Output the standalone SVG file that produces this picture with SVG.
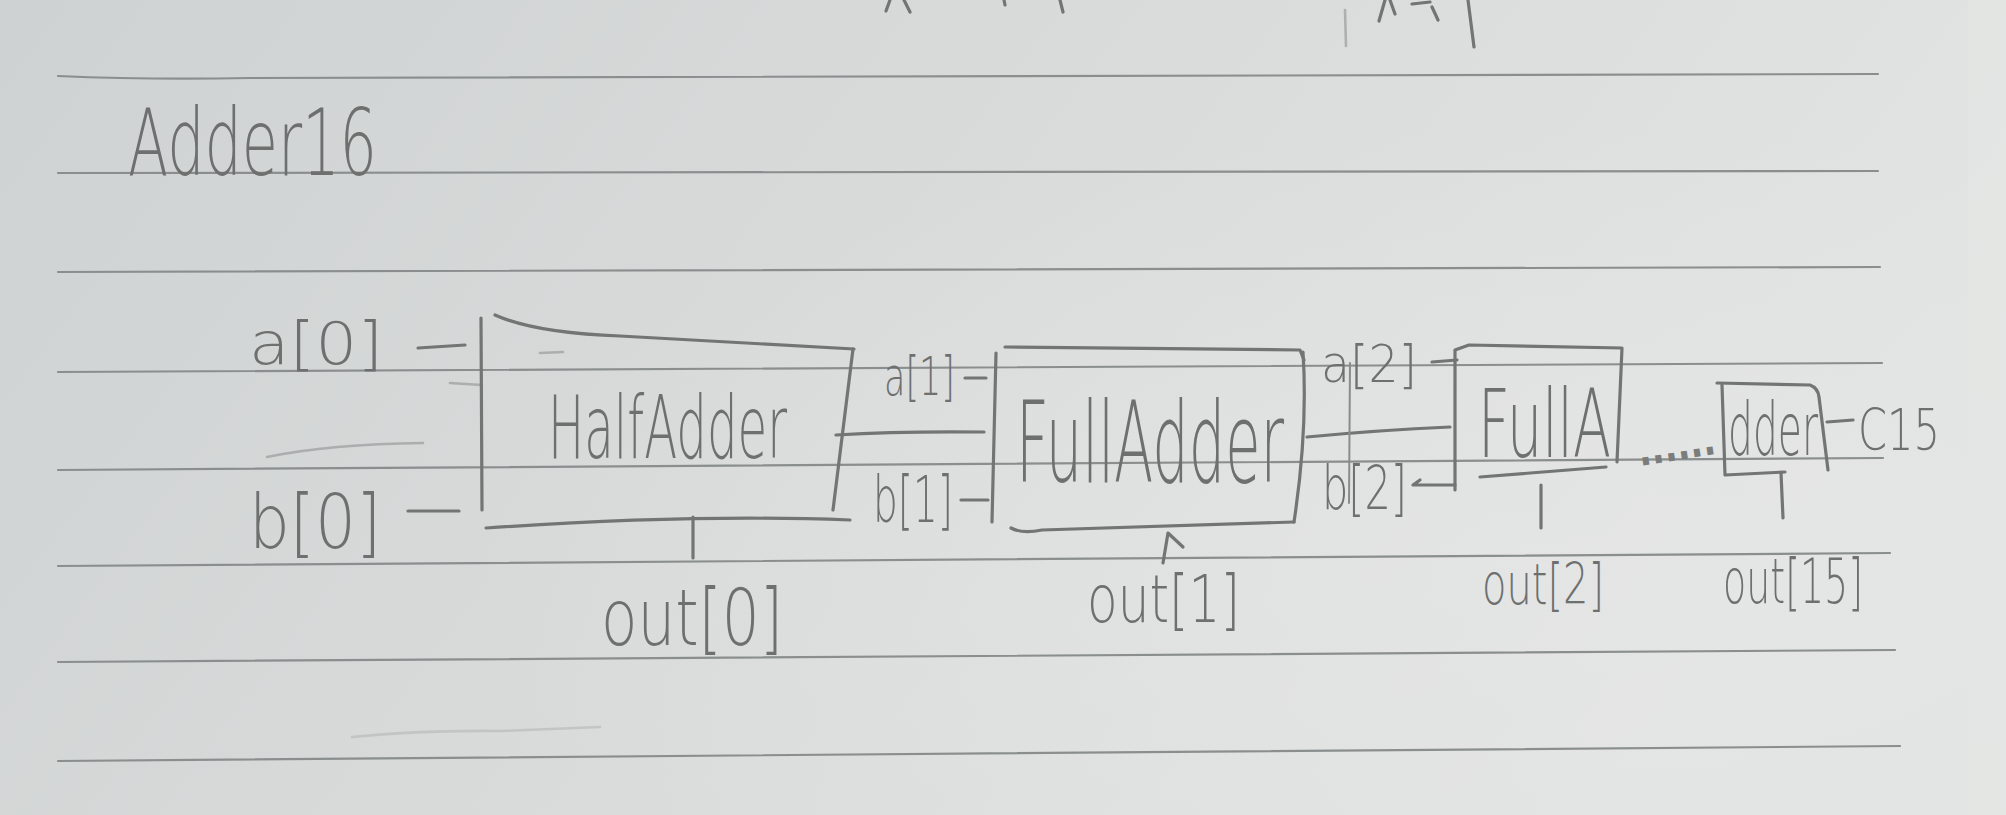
<svg xmlns="http://www.w3.org/2000/svg" width="2006" height="815" viewBox="0 0 2006 815">
<defs>
<linearGradient id="paper" x1="0" y1="0" x2="1" y2="0.3">
<stop offset="0" stop-color="#ced2d2"/>
<stop offset="0.45" stop-color="#d7dad9"/>
<stop offset="1" stop-color="#e2e4e3"/>
</linearGradient>
<radialGradient id="glow" cx="0.78" cy="0.7" r="0.55">
<stop offset="0" stop-color="#e6e7e6" stop-opacity="0.6"/>
<stop offset="1" stop-color="#e6e7e6" stop-opacity="0"/>
</radialGradient>
<style>
.rule{stroke:#8a8e8e;stroke-width:2.2;fill:none;stroke-linecap:round}
.pen{stroke:#727574;stroke-width:3.2;fill:none;stroke-linecap:round;stroke-linejoin:round}
.thin{stroke:#8a8c8b;stroke-width:2;fill:none;stroke-linecap:round}
.faint{stroke:#9a9d9c;stroke-width:2.6;fill:none;stroke-linecap:round;opacity:0.7}
.hw{font-family:"DejaVu Sans","Liberation Sans",sans-serif;font-weight:200;fill:#6d706f}
.dots{font-family:"DejaVu Sans","Liberation Sans",sans-serif;font-weight:700;fill:#7a7d7c}
</style>
</defs>
<rect x="0" y="0" width="2006" height="815" fill="url(#paper)"/>
<rect x="0" y="0" width="2006" height="815" fill="url(#glow)"/>
<rect x="1968" y="0" width="38" height="815" fill="#e6e7e6" opacity="0.5"/>

<g id="ruled-lines">
<path class="rule" d="M58,76 Q150,80 250,78 L1878,74"/>
<path class="rule" d="M58,173 L1878,171"/>
<path class="rule" d="M58,272 L1880,267"/>
<path class="rule" d="M58,372 L1882,363"/>
<path class="rule" d="M58,470 L1883,458"/>
<path class="rule" d="M58,566 L1890,553"/>
<path class="rule" d="M58,662 L1895,650"/>
<path class="rule" d="M58,761 L1900,746"/>
</g>

<g id="top-marks">
<path class="pen" d="M886,11 L890,0 M904,0 L910,12 M1004,0 L1005,5 M1060,0 L1063,12 M1379,21 L1385,0 M1390,0 L1395,14 M1412,4 L1430,2 M1432,7 L1438,20 M1468,0 L1474,47"/>
<path class="faint" d="M1345,10 L1346,46"/>
</g>

<g id="title">
<text class="hw" transform="translate(128,175) scale(1,1.56)" x="0" y="0" font-size="59" textLength="249" lengthAdjust="spacingAndGlyphs">Adder16</text>
</g>

<g id="stray-marks">
<path class="faint" d="M267,457 Q330,444 423,443"/>
<path class="faint" d="M450,383 L482,385"/>
<path class="faint" d="M540,353 L563,352"/>
<path class="faint" style="opacity:0.35" d="M352,737 Q420,730 500,731 L600,727"/>
</g>

<g id="input-a0">
<text class="hw" x="249" y="364" font-size="58" textLength="134" lengthAdjust="spacingAndGlyphs">a[0]</text>
</g>
<g id="input-b0">
<text class="hw" transform="translate(249,548) scale(1,1.16)" x="0" y="0" font-size="64" textLength="132" lengthAdjust="spacingAndGlyphs">b[0]</text>
</g>

<g id="halfadder">
<path class="pen" d="M481,318 L482,510"/>
<path class="pen" d="M495,315 Q535,333 620,336 L854,349"/>
<path class="pen" d="M853,349 L833,510"/>
<path class="pen" d="M486,528 Q690,514 850,520"/>
<text class="hw" transform="translate(548,458) scale(1,1.83)" x="0" y="0" font-size="48" textLength="239" lengthAdjust="spacingAndGlyphs">HalfAdder</text>
</g>

<g id="fulladder-1">
<path class="pen" d="M996,353 L992,522"/>
<path class="pen" d="M1005,347 L1300,350 L1304,360"/>
<path class="pen" d="M1303,352 Q1308,430 1294,522"/>
<path class="pen" d="M1011,528 Q1022,534 1042,530 L1294,522"/>
<text class="hw" transform="translate(1016,482) scale(1,1.98)" x="0" y="0" font-size="56.5" textLength="268" lengthAdjust="spacingAndGlyphs">FullAdder</text>
</g>

<g id="fulladder-2">
<path class="pen" d="M1455,490 L1455,350 L1469,345 L1622,348 L1617,462"/>
<path class="pen" d="M1480,477 Q1540,472 1606,467"/>
<text class="hw" transform="translate(1478,457) scale(1,1.76)" x="0" y="0" font-size="54" textLength="133" lengthAdjust="spacingAndGlyphs">FullA</text>
</g>

<g id="adder-15">
<path class="pen" d="M1717,383 L1810,385 Q1818,388 1819,397 L1828,470"/>
<path class="pen" d="M1722,385 L1725,475 L1785,472"/>
<text class="hw" transform="translate(1728,455) scale(1,1.85)" x="0" y="0" font-size="39" textLength="90" lengthAdjust="spacingAndGlyphs">dder</text>
</g>

<g id="labels">
<text class="hw" transform="translate(884,395) scale(1,1.51)" x="0" y="0" font-size="35" textLength="71" lengthAdjust="spacingAndGlyphs">a[1]</text>
<text class="hw" transform="translate(873,522) scale(1,1.64)" x="0" y="0" font-size="39" textLength="80" lengthAdjust="spacingAndGlyphs">b[1]</text>
<text class="hw" transform="translate(1321,382) scale(1,1.08)" x="0" y="0" font-size="47" textLength="96" lengthAdjust="spacingAndGlyphs">a[2]</text>
<text class="hw" transform="translate(1322,509) scale(1,1.47)" x="0" y="0" font-size="41.5" textLength="85" lengthAdjust="spacingAndGlyphs">b[2]</text>
<text class="hw" transform="translate(601,645) scale(1,1.3)" x="0" y="0" font-size="60" textLength="182" lengthAdjust="spacingAndGlyphs">out[0]</text>
<text class="hw" transform="translate(1087,622) scale(1,1.32)" x="0" y="0" font-size="50" textLength="153" lengthAdjust="spacingAndGlyphs">out[1]</text>
<text class="hw" transform="translate(1482,604) scale(1,1.43)" x="0" y="0" font-size="40" textLength="122" lengthAdjust="spacingAndGlyphs">out[2]</text>
<text class="hw" transform="translate(1723,603) scale(1,1.66)" x="0" y="0" font-size="38" textLength="140" lengthAdjust="spacingAndGlyphs">out[15]</text>
<text class="hw" transform="translate(1858,450) scale(1,1.41)" x="0" y="0" font-size="41" textLength="82" lengthAdjust="spacingAndGlyphs">C15</text>
<text class="dots" transform="rotate(-9 1640 466)" x="1640" y="466" font-size="42" textLength="78" lengthAdjust="spacingAndGlyphs">......</text>
</g>

<g id="connectors">
<path class="pen" d="M418,348 L465,345"/>
<path class="pen" d="M408,511 L459,511"/>
<path class="pen" d="M836,435 Q900,431 984,432"/>
<path class="pen" d="M693,517 L693,558"/>
<path class="pen" d="M965,378 L986,378"/>
<path class="pen" d="M961,500 L988,500"/>
<path class="pen" d="M1163,563 L1168,533 L1183,547"/>
<path class="pen" d="M1307,437 Q1380,430 1450,427"/>
<path class="thin" d="M1350,363 L1349,503"/>
<path class="pen" d="M1432,362 L1457,360"/>
<path class="pen" d="M1420,480 L1413,485 L1455,485"/>
<path class="pen" d="M1541,485 L1541,528"/>
<path class="pen" d="M1781,473 L1783,518"/>
<path class="pen" d="M1827,422 L1853,420"/>
</g>
</svg>
